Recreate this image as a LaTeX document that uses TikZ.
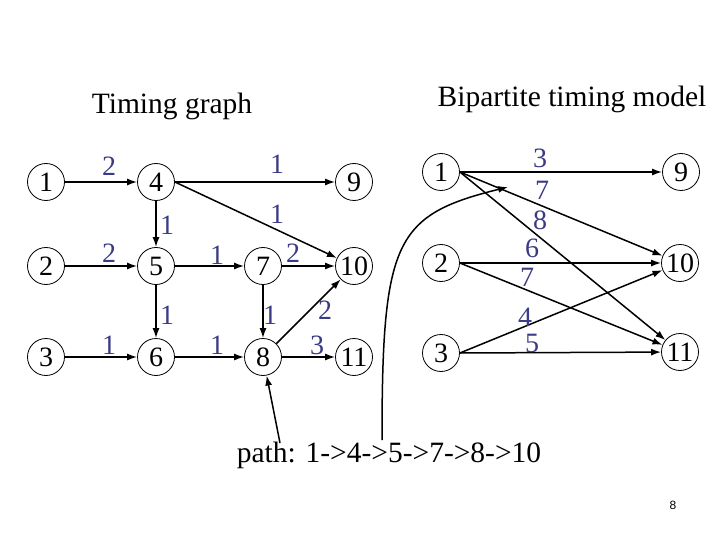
\documentclass[tikz,border=0pt]{standalone}
\usepackage{fontspec}
\setmainfont{Liberation Serif}
\newfontfamily\pagenofont{Liberation Sans}
\usepackage{tikz}
\usetikzlibrary{arrows.meta}
\definecolor{wtblue}{HTML}{3B3B85}

\begin{document}
\begin{tikzpicture}[x=1pt,y=-1pt,
  vtx/.style={circle,draw,line width=0.8pt,minimum size=37pt,inner sep=0pt,font=\fontsize{28}{30}\selectfont},
  wt/.style={text=wtblue,inner sep=0pt,font=\fontsize{28}{30}\selectfont},
  arr/.style={-{Latex[length=10pt,width=7pt]},line width=1.5pt}]
  \useasboundingbox (0,0) rectangle (720,540);
  \node[anchor=base,font=\fontsize{29.5}{32}\selectfont] (ttl) at (172,114) {Timing graph};
  \node[anchor=base,font=\fontsize{29.5}{32}\selectfont] (bttl) at (572,107) {Bipartite timing model};
  % timing graph
  \node[vtx] (n1) at (46,182) {1};
  \node[vtx] (n2) at (46,266) {2};
  \node[vtx] (n3) at (46,357) {3};
  \node[vtx] (n4) at (156,182) {4};
  \node[vtx] (n5) at (156,266) {5};
  \node[vtx] (n6) at (156,357) {6};
  \node[vtx] (n7) at (263,266) {7};
  \node[vtx] (n8) at (263,357) {8};
  \node[vtx] (n9) at (354,182) {9};
  \node[vtx] (n10) at (354,266) {10};
  \node[vtx] (n11) at (354,357) {11};
  \draw[arr] (n1) -- (n4);
  \draw[arr] (n2) -- (n5);
  \draw[arr] (n3) -- (n6);
  \draw[arr] (n4) -- (n9);
  \draw[arr] (n4.east) -- (n10);
  \draw[arr] (n4) -- (n5);
  \draw[arr] (n5) -- (n6);
  \draw[arr] (n5) -- (n7);
  \draw[arr] (n6) -- (n8);
  \draw[arr] (n7) -- (n10);
  \draw[arr] (n7) -- (n8);
  \draw[arr] (n8) -- (n10);
  \draw[arr] (n8) -- (n11);
  \node[wt] (w14) at (109,166) {2};
  \node[wt] (w49) at (277,164) {1};
  \node[wt] (w410) at (277,214) {1};
  \node[wt] (w45) at (167,225) {1};
  \node[wt] (w25) at (109,253) {2};
  \node[wt] (w57) at (217,255) {1};
  \node[wt] (w710) at (293,253) {2};
  \node[wt] (w56) at (167,315) {1};
  \node[wt] (w78) at (270,315) {1};
  \node[wt] (w810) at (325,310) {2};
  \node[wt] (w36) at (109,345) {1};
  \node[wt] (w68) at (217,345) {1};
  \node[wt] (w811) at (317,345) {3};
  % bipartite timing model
  \node[vtx] (r1) at (441,172) {1};
  \node[vtx] (r2) at (441,263) {2};
  \node[vtx] (r3) at (441,353) {3};
  \node[vtx] (r9) at (681,172) {9};
  \node[vtx] (r10) at (680,263) {10};
  \node[vtx] (r11) at (680,352) {11};
  \draw[arr] (r1.east) -- (r9);
  \draw[arr] (r1.east) -- (r10);
  \draw[arr] (r1.east) -- (r11);
  \draw[arr] (r2.east) -- (r10);
  \draw[arr] (r2.east) -- (r11);
  \draw[arr] (r3.east) -- (r10);
  \draw[arr] (r3.east) -- (r11);
  \node[wt] (v19) at (540,158) {3};
  \node[wt] (v110) at (542,190) {7};
  \node[wt] (v111) at (540,220) {8};
  \node[wt] (v210) at (532,248) {6};
  \node[wt] (v211) at (527,277) {7};
  \node[wt] (v310) at (525,317) {4};
  \node[wt] (v311) at (532,343) {5};
  % critical path
  \node[anchor=base,font=\fontsize{29.5}{32}\selectfont] (pth) at (389,462) {path: 1->4->5->7->8->10};
  \coordinate (pfoot) at (280,443);
  \coordinate (cfoot) at (382,440);
  \coordinate (ctip) at (508,187);
  \draw[arr] (pfoot) -- (n8);
  \draw[arr] (cfoot) .. controls (382,240) and (395,215) .. (ctip);
  \node[font=\pagenofont\fontsize{12}{14}\selectfont] (pgno) at (673,505) {8};
\end{tikzpicture}
\end{document}
